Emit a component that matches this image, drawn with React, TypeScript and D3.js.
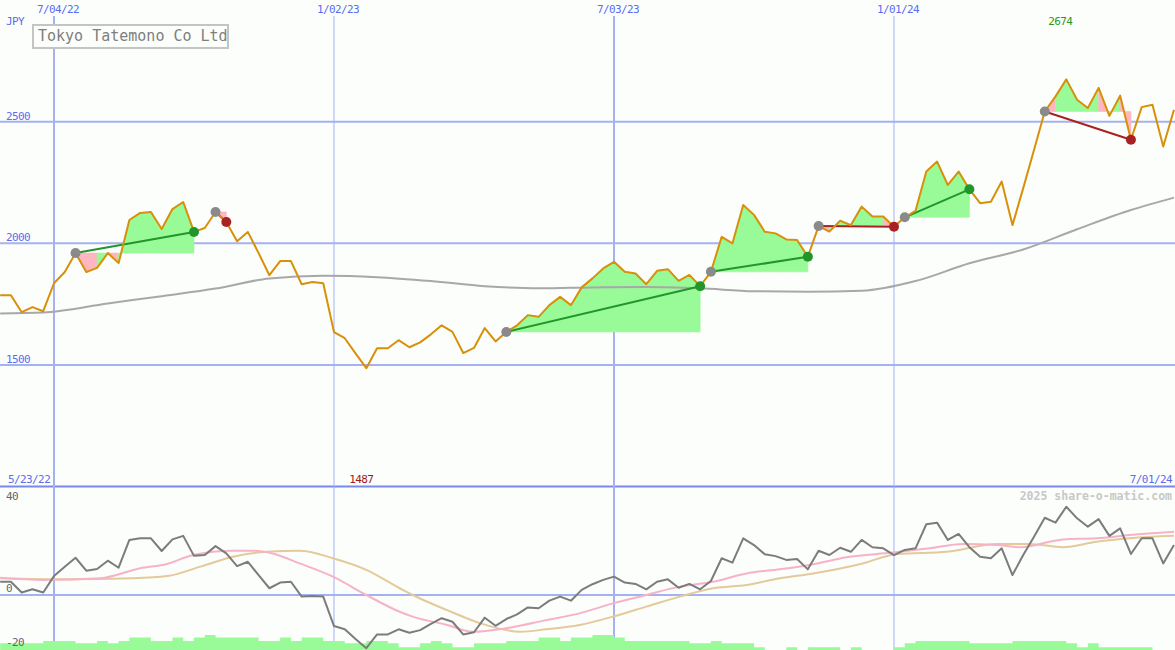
import React from "react";
import * as d3 from "d3";

// ---------- DATA ----------
const startDate = new Date(Date.UTC(2022, 4, 30)); // first weekly point
const weekCount = 110;

const prices = [
  1787, 1787, 1717, 1738, 1721, 1836, 1882, 1960, 1882, 1899,
  1960, 1919, 2096, 2125, 2129, 2059, 2141, 2170, 2047, 2063,
  2129, 2088, 2009, 2047, 1960, 1869, 1927, 1927, 1832, 1841,
  1836, 1635, 1610, 1548, 1487, 1569, 1569, 1602, 1573, 1593,
  1626, 1663, 1636, 1549, 1570, 1652, 1597, 1636, 1663, 1705,
  1698, 1746, 1780, 1746, 1819, 1856, 1897, 1924, 1883, 1876,
  1832, 1887, 1894, 1846, 1870, 1824, 1883, 2027, 2000, 2158,
  2117, 2048, 2041, 2016, 2014, 1945, 2071, 2048, 2093, 2075,
  2151, 2110, 2110, 2068, 2107, 2134, 2295, 2336, 2240, 2295,
  2222, 2165, 2171, 2254, 2075, 2227, 2384, 2542, 2604, 2674,
  2590, 2556, 2639, 2524, 2607, 2426, 2560, 2570, 2398, 2549,
];

// long moving average (knots: week index, value)
const maWeeks = [0, 4, 10, 15, 20, 25, 30, 35, 40, 45, 50, 55, 60, 65, 70, 75, 80, 85, 90, 95, 100, 105, 109];
const maValues = [1712, 1716, 1753, 1783, 1814, 1856, 1867, 1861, 1845, 1824, 1815, 1819, 1821, 1815, 1803, 1801, 1805, 1845, 1918, 1975, 2058, 2137, 2188];

// oscillator (lower panel)
const oscillator = [
  4.9, 4.9, 0.9, 2.1, 0.9, 7.0, 10.5, 13.8, 9.0, 9.6,
  12.7, 10.1, 20.4, 21.0, 21.0, 16.3, 20.6, 21.9, 14.5, 14.8,
  18.1, 15.4, 10.7, 12.3, 7.4, 2.5, 4.6, 4.9, -0.6, -0.4,
  -0.6, -11.5, -12.7, -16.3, -19.7, -14.6, -14.6, -12.7, -14.0, -13.0,
  -10.7, -8.6, -9.9, -14.6, -13.8, -8.4, -11.4, -8.9, -7.2, -4.6,
  -4.9, -2.1, -0.6, -2.1, 1.9, 4.0, 5.6, 6.8, 4.6, 4.1,
  2.1, 4.9, 5.8, 2.7, 4.1, 2.1, 5.2, 13.6, 12.0, 21.0,
  18.5, 15.1, 14.4, 13.0, 13.3, 9.5, 16.4, 14.8, 17.5, 16.0,
  20.4, 17.7, 17.3, 14.8, 16.7, 17.3, 26.2, 26.8, 20.4, 22.6,
  17.7, 14.2, 13.6, 17.3, 7.4, 14.8, 21.6, 28.6, 26.8, 32.7,
  28.4, 25.3, 28.1, 21.9, 24.7, 15.2, 21.0, 21.0, 11.7, 18.5,
];

// fast signal (pink)
const fastWeeks = [0, 4, 9.3, 13, 15.5, 17.9, 21.6, 23.5, 25.3, 27.8, 30.9, 34, 37.1, 38.3, 41.5, 43.9, 47, 50.7, 53.8, 56.9, 60, 63.1, 66.2, 69.3, 72.4, 75.5, 78.6, 82.9, 86.3, 89.4, 92.6, 94.7, 98.7, 101.8, 104.9, 109];
const fastValues = [6.4, 5.6, 6.2, 9.9, 11.5, 14.8, 16.4, 16.4, 15.4, 11.7, 6.8, 0, -6.2, -8.0, -11.1, -13.6, -12.3, -9.3, -6.8, -3.1, 0, 3.1, 4.9, 8.0, 9.5, 11.4, 14.0, 15.7, 17.3, 18.9, 18.5, 17.7, 20.6, 21.0, 22.2, 23.4];

// slow signal (tan)
const slowWeeks = [0, 6.2, 12.3, 15.5, 18.6, 21.6, 24.8, 27.8, 30.9, 34, 37.1, 38.3, 41.5, 44.6, 48.3, 50.7, 53.8, 56.9, 60, 63.1, 66.2, 69.3, 72.4, 75.5, 80.1, 83.3, 87.9, 92.6, 95.6, 98.7, 101.8, 104.9, 109];
const slowValues = [6.2, 5.8, 6.2, 7.0, 10.5, 14.2, 16.0, 16.4, 13.6, 9.3, 2.5, 0, -5.6, -10.5, -13.6, -12.7, -11.1, -8.0, -4.3, -0.6, 2.5, 3.7, 6.2, 8.0, 11.7, 15.2, 16.0, 18.9, 18.9, 17.7, 19.7, 21.0, 21.9];

// weekly volume (relative units)
const volumes = [
  2.5, 2.5, 2.5, 2.5, 3.3, 3.3, 3.3, 2.5, 2.5, 3.3,
  2.5, 3.3, 4.6, 4.6, 3.3, 3.3, 4.6, 3.3, 4.6, 5.6,
  4.6, 4.6, 4.6, 4.6, 3.3, 3.3, 4.6, 3.3, 4.6, 4.6,
  3.3, 3.3, 2.5, 2.5, 3.3, 3.3, 2.5, 1.0, 1.0, 2.5,
  3.3, 2.5, 1.0, 1.0, 2.5, 2.5, 2.5, 3.3, 3.3, 3.3,
  4.6, 4.6, 3.3, 4.6, 4.6, 5.6, 5.6, 4.6, 3.3, 3.3,
  3.3, 3.3, 3.3, 3.3, 2.5, 2.5, 3.3, 2.5, 2.5, 2.5,
  1.0, 0, 0, 1.0, 0, 1.0, 1.0, 1.0, 0, 1.0,
  0, 0, 0, 1.0, 2.5, 3.3, 3.3, 3.3, 3.3, 3.3,
  2.5, 2.5, 2.5, 2.5, 3.3, 3.3, 3.3, 3.3, 3.3, 2.5,
  1.0, 2.5, 1.0, 1.0, 1.0, 1.0, 1.0, 0, 0, 0,
];

// trend segments: start week, end week, weeks whose fill is "down"
const trendStarts = [7, 20, 47, 66, 76, 84, 97];
const trendEnds = [18, 21, 65, 75, 83, 90, 105];
const trendDownWeeks = [[7, 8, 10], [20], [], [], [76, 82], [], [97, 102, 104]];

const gridDates = ["2022-07-04", "2023-01-02", "2023-07-03", "2024-01-01"];
const gridMajor = [true, false, true, false];
const priceTicks = [2500, 2000, 1500];
const oscTickLabels = ["40", "0", "-20"];
const title = "Tokyo Tatemono Co Ltd";
const currency = "JPY";
const firstDateLabel = "5/23/22";
const lastDateLabel = "7/01/24";
const credit = "2025 share-o-matic.com";

// ---------- CHART ----------
const W = 1175;
const H = 650;
const weekMs = 7 * 864e5;
const dateOf = (w: number) => new Date(startDate.getTime() + w * weekMs);

const x = d3.scaleUtc().domain([dateOf(0), dateOf(weekCount - 1)]).range([0.15, 1174]);
const xw = (w: number) => x(dateOf(w));
const yP = d3.scaleLinear().domain([1500, 2500]).range([365, 121.7]);
const yO = d3.scaleLinear().domain([-20, 40]).range([649, 487]);
const yV = d3.scaleLinear().domain([0, 10]).range([650, 623]);

const fmt = d3.utcFormat("%-m/%d/%y");

const GRID = "#a4b2f2";
const BLUE_TXT = "#5b6cf2";
const MONO = "'DejaVu Sans Mono', monospace";

export default function App() {
  const idx = d3.range(weekCount);
  const priceLine = d3.line<number>().x((i) => xw(i)).y((i) => yP(prices[i]))(idx) || "";
  const maLine =
    d3.line<number>().curve(d3.curveMonotoneX).x((k) => xw(maWeeks[k])).y((k) => yP(maValues[k]))(d3.range(maWeeks.length)) || "";
  const oscLine = d3.line<number>().x((i) => xw(i)).y((i) => yO(oscillator[i]))(idx) || "";
  const fastLine =
    d3.line<number>().curve(d3.curveMonotoneX).x((k) => xw(fastWeeks[k])).y((k) => yO(fastValues[k]))(d3.range(fastWeeks.length)) || "";
  const slowLine =
    d3.line<number>().curve(d3.curveMonotoneX).x((k) => xw(slowWeeks[k])).y((k) => yO(slowValues[k]))(d3.range(slowWeeks.length)) || "";
  const volArea =
    d3
      .area<number>()
      .curve(d3.curveStepAfter)
      .x((i) => xw(i))
      .y0(yV(0))
      .y1((i) => yV(volumes[Math.min(i, weekCount - 1)]))(d3.range(weekCount + 1)) || "";

  const maxI = prices.indexOf(d3.max(prices) as number);
  const minI = prices.indexOf(d3.min(prices) as number);

  const fills: JSX.Element[] = [];
  const trendLines: JSX.Element[] = [];
  const dots: JSX.Element[] = [];
  trendStarts.forEach((s, t) => {
    const e = trendEnds[t];
    const level = prices[s];
    const up = prices[e] >= level;
    // group consecutive weeks of the same fill colour into one path
    let runStart = s;
    for (let i = s; i < e; i++) {
      const down = trendDownWeeks[t].includes(i);
      const nextDown = i + 1 < e ? trendDownWeeks[t].includes(i + 1) : !down;
      if (nextDown !== down || i + 1 === e) {
        const a =
          d3
            .area<number>()
            .x((j) => xw(j))
            .y0(yP(level))
            .y1((j) => yP(prices[j]))(d3.range(runStart, i + 2)) || "";
        const c = down ? "#ffb6c1" : "#98fb98";
        fills.push(<path key={`f${t}-${i}`} d={a} fill={c} stroke={c} strokeWidth={0.6} />);
        runStart = i + 1;
      }
    }
    const col = up ? "#22962a" : "#a82222";
    trendLines.push(
      <line key={`t${t}`} x1={xw(s)} y1={yP(prices[s])} x2={xw(e)} y2={yP(prices[e])} stroke={col} strokeWidth={2} />
    );
    dots.push(<circle key={`ds${t}`} cx={xw(s)} cy={yP(prices[s])} r={5} fill="#8a8a8a" />);
    dots.push(<circle key={`de${t}`} cx={xw(e)} cy={yP(prices[e])} r={5} fill={col} />);
  });

  return (
    <svg width={W} height={H} style={{ position: "absolute", left: 0, top: 0, display: "block" }} fontFamily={MONO}>
      <rect x={0} y={0} width={W} height={H} fill="#fbfefb" />

      {/* horizontal grid upper */}
      {priceTicks.map((t) => (
        <g key={`h${t}`}>
          <line x1={0} x2={W} y1={yP(t)} y2={yP(t)} stroke={GRID} strokeWidth={2} />
          <text x={6} y={yP(t) - 2} fontSize={11} fill={BLUE_TXT} letterSpacing={-0.6}>
            {t}
          </text>
        </g>
      ))}
      {/* lower panel lines */}
      <line x1={0} x2={W} y1={yO(0)} y2={yO(0)} stroke={GRID} strokeWidth={2} />
      <line x1={0} x2={W} y1={486.5} y2={486.5} stroke="#7a88ec" strokeWidth={2} />

      {/* vertical grid */}
      {gridDates.map((d, i) => {
        const xx = x(new Date(d + "T00:00:00Z"));
        return (
          <g key={d}>
            <line x1={xx} x2={xx} y1={16} y2={H} stroke={GRID} strokeWidth={gridMajor[i] ? 2 : 1} />
            <text x={xx + 4} y={13} textAnchor="middle" fontSize={11} fill={BLUE_TXT} letterSpacing={-0.6}>
              {fmt(new Date(d + "T00:00:00Z"))}
            </text>
          </g>
        );
      })}

      <text x={6} y={25} fontSize={11} fill={BLUE_TXT} letterSpacing={-0.6}>
        {currency}
      </text>

      {/* upper panel series */}
      {fills}
      <path d={maLine} fill="none" stroke="#a8a8a8" strokeWidth={2} />
      {trendLines}
      <path d={priceLine} fill="none" stroke="#d8900a" strokeWidth={2} strokeLinejoin="round" />
      {dots}

      {/* title box */}
      <rect x={33} y={25} width={195} height={23} fill="#fbfefb" stroke="#c4c4c4" strokeWidth={2} />
      <text x={38} y={41} fontSize={15} fill="#7e7e7e">
        {title}
      </text>

      <text x={xw(maxI) - 6} y={25} textAnchor="middle" fontSize={11} fill="#1f9a1f" letterSpacing={-0.6}>
        {prices[maxI]}
      </text>
      <text x={xw(minI) - 5} y={483} textAnchor="middle" fontSize={11} fill="#a01818" letterSpacing={-0.6}>
        {prices[minI]}
      </text>
      <text x={8} y={483} fontSize={11} fill={BLUE_TXT} letterSpacing={-0.6}>
        {firstDateLabel}
      </text>
      <text x={1172} y={483} textAnchor="end" fontSize={11} fill={BLUE_TXT} letterSpacing={-0.6}>
        {lastDateLabel}
      </text>

      {/* lower panel */}
      <path d={volArea} fill="#98fb98" stroke="none" />
      <path d={slowLine} fill="none" stroke="#e4ca9a" strokeWidth={2} />
      <path d={fastLine} fill="none" stroke="#f8b2c8" strokeWidth={2} />
      <path d={oscLine} fill="none" stroke="#7c7c7c" strokeWidth={2} strokeLinejoin="round" />

      <text x={1172} y={500} textAnchor="end" fontSize={11.5} fontWeight="bold" fill="#c8c8c8">
        {credit}
      </text>
      {oscTickLabels.map((t, i) => (
        <text key={t} x={6} y={[499.5, 592, 646][i]} fontSize={11} fill="#666" letterSpacing={-0.6}>
          {t}
        </text>
      ))}
    </svg>
  );
}
